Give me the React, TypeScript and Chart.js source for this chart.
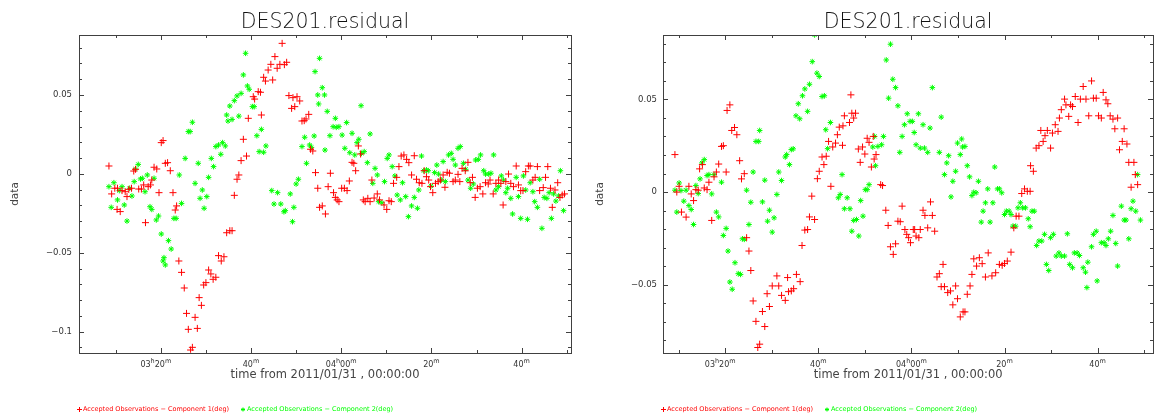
import React, { useEffect, useRef } from "react";
import { Chart, registerables } from "chart.js";

Chart.register(...registerables);

type Pt = [number, number];

const TITLE = "DES201.residual";
const X_TITLE = "time from 2011/01/31 , 00:00:00";
const Y_TITLE = "data";
const LEGEND_RED = "Accepted Observations \u2212 Component 1(deg)";
const LEGEND_GREEN = "Accepted Observations \u2212 Component 2(deg)";

// x values: minutes after 03:00 (UT) on 2011/01/31
const xMajorTicks = [20, 40, 60, 80, 100];
const xMajorLabels = ["03h20m", "40m", "04h00m", "20m", "40m"];

const leftYTicks = [0.05, 0, -0.05, -0.1];
const leftYLabels = ["0.05", "0", "\u22120.05", "\u22120.1"];
const rightYTicks = [0.05, 0, -0.05];
const rightYLabels = ["0.05", "0", "\u22120.05"];

const leftRed: Pt[] = [
  [8.5, 0.005], [9.1, -0.0127], [9.8, -0.0091], [10.4, -0.0091], [10.3, -0.0225], [11.0, -0.0239], [11.4, -0.0106], [12.1, -0.0113], [12.5, -0.0144], [12.9, -0.0098],
  [13.5, -0.0091], [14.0, 0.0018], [14.4, 0.0029], [15.1, -0.0096], [15.7, -0.0096], [16.2, -0.007], [16.6, -0.0309], [17.2, -0.0081], [17.7, -0.007], [18.0, -0.0039],
  [18.5, 0.0042], [19.1, 0.0031], [19.6, -0.0119], [20.1, 0.0198], [20.5, 0.0211], [21.0, 0.0067], [21.5, 0.0071], [22.1, 0.002], [22.7, -0.0119], [23.2, -0.0229],
  [23.5, -0.0203], [24.0, -0.0552], [24.6, -0.0624], [25.2, -0.0723], [25.7, -0.0884], [26.1, -0.0985], [26.6, -0.1116], [27.0, -0.1099], [27.6, -0.0909], [28.1, -0.0979],
  [28.5, -0.0784], [29.0, -0.0833], [29.5, -0.0704], [30.0, -0.0689], [30.6, -0.0609], [31.1, -0.0634], [31.6, -0.0668], [32.2, -0.0655], [32.8, -0.0518], [33.4, -0.0552],
  [34.0, -0.0525], [34.6, -0.0373], [35.3, -0.036], [35.8, -0.036], [36.3, -0.0136], [36.9, -0.0034], [37.3, -0.0007], [37.8, 0.0084], [38.3, 0.0219], [39.0, 0.0113],
  [39.4, 0.0352], [40.5, 0.0489], [40.8, 0.0474], [41.6, 0.0521], [42.1, 0.0517], [42.3, 0.0373], [42.8, 0.0612], [43.2, 0.0588], [43.8, 0.0658], [44.4, 0.0694],
  [44.8, 0.0595], [45.3, 0.0743], [45.8, 0.0669], [46.4, 0.0694], [46.9, 0.0827], [47.4, 0.0692], [47.9, 0.0707], [48.4, 0.0496], [49.0, 0.0415], [49.3, 0.0483],
  [49.7, 0.0426], [50.2, 0.0489], [50.8, 0.0462], [51.3, 0.0335], [51.8, 0.0337], [52.2, 0.0348], [52.8, 0.0377], [53.2, 0.0156], [53.7, 0.0145], [54.3, 0.0008],
  [54.8, -0.0091], [55.2, -0.0212], [55.8, -0.0203], [56.5, -0.0254], [57.1, -0.0081], [57.6, 0.0004], [58.3, -0.0119], [58.7, -0.0149], [59.1, -0.0165], [59.5, -0.0176],
  [60.1, -0.0091], [60.7, -0.0091], [61.3, -0.0106], [61.8, -0.0045], [62.4, 0.0073], [62.8, 0.0067], [63.2, 0.002], [63.8, 0.0177], [64.3, 0.0126], [64.9, -0.0165],
  [65.3, -0.0176], [65.9, -0.0155], [66.4, -0.0176], [66.8, -0.0039], [67.3, -0.0153], [68.0, -0.0127], [68.5, -0.0165], [69.5, -0.0197], [70.1, -0.0225], [70.6, -0.017],
  [71.1, -0.0176], [71.6, -0.006], [72.3, -0.0022], [72.8, 0.0046], [73.3, 0.0113], [73.9, 0.012], [74.5, 0.0092], [75.0, 0.0071], [75.6, -0.0007], [76.2, 0.0115],
  [76.7, -0.0034], [77.3, -0.0056], [77.9, -0.006], [78.4, 0.002], [78.9, -0.0018], [79.4, -0.0039], [79.8, -0.0081], [80.3, -0.0119], [80.9, -0.006], [81.5, -0.0049],
  [82.0, -0.0039], [82.6, -0.0007], [83.0, -0.0085], [83.5, 0.001], [84.0, 0.0004], [84.8, -0.0049], [85.3, -0.0039], [85.9, -0.0003], [86.3, -0.0049], [86.8, 0.0035],
  [87.5, 0.002], [88.1, 0.0073], [88.6, -0.0056], [89.1, -0.0022], [89.7, -0.0149], [90.2, -0.0091], [90.8, -0.0081], [91.4, -0.0127], [92.0, -0.0056], [92.6, -0.0064],
  [93.0, -0.0039], [93.7, -0.0127], [94.3, -0.006], [94.9, -0.0039], [95.4, -0.006], [95.9, -0.0197], [96.5, -0.0049], [97.1, -0.0001], [97.6, -0.006], [98.2, -0.0081],
  [98.8, 0.005], [99.3, -0.007], [99.8, -0.0106], [100.3, -0.0106], [100.9, 0.0014], [101.5, 0.005], [101.9, 0.005], [102.5, -0.0039], [103.0, -0.0022], [103.5, 0.0046],
  [104.0, -0.0106], [104.8, -0.0087], [105.3, -0.0022], [105.8, 0.0046], [106.4, -0.0091], [106.8, -0.0212], [107.4, -0.0102], [108.0, -0.0056], [108.5, -0.0149], [109.0, -0.0134],
  [109.5, -0.0127],
];

const leftGreen: Pt[] = [
  [8.5, -0.0081], [9.0, -0.0212], [9.6, -0.0056], [10.4, -0.0165], [10.8, -0.0106], [11.4, -0.0081], [11.9, -0.0197], [12.5, -0.0299], [13.1, -0.0091], [13.6, -0.014],
  [14.1, -0.0049], [14.4, 0.0031], [15.0, 0.006], [15.5, -0.0032], [15.9, -0.0028], [16.5, -0.0113], [17.0, -0.0007], [17.6, -0.0208], [18.0, -0.0225], [18.5, -0.0028],
  [19.0, -0.0292], [19.5, -0.0267], [20.1, -0.0381], [20.5, -0.0552], [20.7, -0.0531], [21.0, -0.0577], [21.7, -0.0423], [22.3, -0.0476], [22.9, -0.0282], [23.4, -0.0282],
  [24.1, -0.0007], [24.6, -0.0187], [25.4, 0.0098], [26.1, 0.0268], [26.5, 0.0268], [27.0, 0.0327], [27.6, -0.006], [28.3, 0.0067], [28.7, -0.0155], [29.2, -0.0102],
  [29.6, -0.0218], [30.2, -0.0144], [30.6, -0.0022], [31.2, 0.0098], [31.7, 0.0046], [32.2, 0.0173], [32.8, 0.0183], [33.3, 0.0124], [33.7, 0.0198], [34.3, 0.0177],
  [34.6, 0.0373], [34.9, 0.0335], [35.3, 0.043], [35.8, 0.0345], [36.3, 0.0464], [36.9, 0.0494], [37.3, 0.0366], [37.8, 0.051], [38.3, 0.0627], [38.8, 0.0764],
  [39.2, 0.0557], [39.6, 0.0536], [40.3, 0.0426], [40.7, 0.0426], [41.3, 0.0242], [41.8, 0.0141], [42.3, 0.0282], [42.8, 0.0137], [43.3, 0.0177], [44.6, -0.0106],
  [45.1, -0.0191], [45.9, -0.0119], [46.6, -0.0191], [47.3, -0.024], [47.6, -0.0233], [48.7, -0.0127], [49.2, -0.0303], [49.5, -0.0212], [50.0, -0.0064], [50.5, -0.0034],
  [51.3, 0.0173], [51.9, 0.0232], [52.3, 0.0067], [53.0, 0.0183], [53.4, 0.0168], [54.0, 0.024], [54.2, 0.0648], [54.8, 0.05], [55.0, 0.0443], [55.2, 0.0732],
  [55.8, 0.0546], [56.3, 0.05], [56.4, 0.0151], [56.9, 0.0396], [57.5, 0.0242], [58.2, 0.0299], [58.7, 0.0352], [58.9, 0.0295], [59.5, 0.0299], [60.2, 0.0246],
  [60.8, 0.0162], [61.2, 0.0325], [61.9, 0.0134], [62.4, 0.0257], [63.0, 0.012], [63.5, 0.0198], [63.9, 0.0219], [64.4, 0.0432], [64.5, 0.013], [65.1, 0.0141],
  [65.8, 0.0071], [66.4, 0.0253], [67.0, -0.006], [67.5, 0.0035], [68.0, -0.0007], [68.3, -0.0176], [69.0, -0.0183], [69.6, -0.0049], [70.2, 0.0098], [70.6, 0.012],
  [71.3, 0.0046], [71.9, -0.0013], [72.4, -0.0134], [73.1, -0.0165], [73.6, -0.0056], [74.3, -0.0144], [74.9, -0.0271], [75.6, -0.0203], [76.2, -0.0149], [76.9, -0.0218],
  [77.2, -0.0102], [77.8, 0.0113], [78.3, 0.002], [78.9, 0.0025], [79.3, 0.002], [79.9, -0.0077], [80.7, 0.0008], [81.2, 0.0056], [81.6, -0.0001], [82.2, -0.0039],
  [82.6, 0.0078], [83.1, -0.0049], [83.8, 0.012], [84.4, 0.013], [84.8, 0.0092], [85.3, 0.0056], [85.9, 0.0162], [86.4, 0.0173], [87.1, 0.0067], [87.6, 0.0029],
  [88.1, -0.0039], [88.7, -0.0091], [89.3, -0.0064], [89.8, 0.0088], [90.4, 0.0092], [90.9, 0.012], [91.6, 0.002], [92.0, -0.0001], [92.7, -0.0001], [93.2, 0.0004],
  [93.8, 0.012], [94.3, -0.0102], [94.9, -0.0081], [95.5, -0.0013], [96.0, -0.0039], [96.5, -0.0119], [96.9, -0.0091], [97.6, -0.0155], [98.0, -0.0254], [98.8, -0.0022],
  [99.3, -0.0144], [99.8, -0.0282], [100.4, -0.0013], [100.9, -0.0102], [101.3, -0.0288], [101.9, -0.0056], [102.5, -0.0113], [102.9, -0.0176], [103.5, -0.0212], [104.0, -0.0034],
  [104.5, -0.0345], [105.0, -0.0149], [105.6, -0.0155], [106.1, -0.0119], [106.6, -0.0282], [107.1, -0.0127], [107.6, -0.0172], [108.2, -0.014], [108.6, 0.002], [109.3, -0.0233],
];

const rightRed: Pt[] = [
  [9.2, 0.0202], [9.6, 0.0], [10.1, 0.0031], [10.6, -0.0108], [11.6, -0.0135], [12.2, 0.0031], [12.7, -0.001], [13.2, -0.0046], [13.7, 0.0013], [14.2, 0.001],
  [14.5, 0.0125], [15.1, 0.0148], [15.5, 0.0022], [16.1, 0.0013], [16.5, 0.0053], [17.1, -0.0153], [17.6, 0.0082], [18.1, 0.0108], [18.6, 0.0151], [19.2, 0.0246],
  [19.6, 0.025], [20.2, 0.0108], [20.4, 0.044], [21.0, 0.047], [21.4, 0.0332], [22.0, 0.0348], [22.5, 0.0309], [23.1, 0.0169], [23.5, 0.0071], [24.1, 0.0099],
  [24.6, -0.0246], [25.1, -0.0318], [25.5, -0.0423], [26.0, -0.0587], [26.6, -0.0697], [27.0, -0.0838], [27.4, -0.082], [28.0, -0.0644], [28.5, -0.0725], [29.0, -0.0548],
  [29.5, -0.0617], [30.1, -0.0506], [31.1, -0.0452], [31.5, -0.0506], [32.1, -0.0557], [32.9, -0.0584], [33.4, -0.0461], [33.6, -0.0537], [34.2, -0.0533], [34.7, -0.0521],
  [35.3, -0.0444], [36.1, -0.0483], [36.5, -0.0288], [37.1, -0.0205], [37.7, -0.0202], [38.1, -0.0134], [38.6, -0.0022], [39.2, -0.0148], [39.8, 0.0072], [40.2, 0.0112],
  [40.8, 0.0189], [41.2, 0.0148], [41.7, 0.0193], [42.2, 0.0273], [42.7, 0.0031], [43.1, 0.0243], [43.7, 0.0264], [44.1, 0.0309], [44.5, 0.035], [45.2, 0.0252],
  [45.3, 0.0357], [45.6, 0.0411], [46.7, 0.0375], [47.0, 0.0524], [47.2, 0.0425], [47.6, 0.0399], [48.0, 0.0425], [48.6, 0.0232], [49.0, 0.016], [49.5, 0.0243],
  [50.0, 0.0205], [50.5, 0.029], [50.9, 0.0268], [51.4, 0.0135], [51.8, 0.03], [52.0, 0.0178], [52.4, 0.0202], [53.4, 0.004], [53.8, 0.0035], [54.5, -0.0098],
  [55.0, -0.018], [55.5, -0.0295], [56.1, -0.0336], [56.6, -0.0279], [57.1, -0.0157], [57.6, -0.016], [58.0, -0.0076], [58.6, -0.0202], [59.0, -0.0228], [59.4, -0.0246],
  [59.8, -0.0273], [60.4, -0.0202], [60.7, -0.0202], [61.0, -0.0237], [61.6, -0.0246], [61.9, -0.0202], [62.5, -0.0098], [62.9, -0.0126], [63.5, -0.0193], [64.1, -0.0053],
  [64.5, -0.0126], [65.0, -0.0211], [65.5, -0.0458], [66.0, -0.044], [66.4, -0.051], [66.8, -0.039], [67.1, -0.051], [67.8, -0.0542], [68.4, -0.0533], [68.9, -0.0608],
  [69.5, -0.0506], [69.9, -0.0575], [70.5, -0.0673], [71.1, -0.0646], [71.5, -0.0646], [72.0, -0.0551], [72.6, -0.0506], [73.0, -0.0444], [73.4, -0.036], [74.0, -0.0399],
  [74.6, -0.0354], [75.2, -0.0386], [75.9, -0.0458], [76.5, -0.0328], [77.3, -0.0452], [78.1, -0.0435], [78.9, -0.039], [79.5, -0.0395], [80.0, -0.0385], [80.6, -0.0372],
  [81.4, -0.0324], [82.0, -0.0193], [82.5, -0.013], [83.1, -0.013], [83.7, -0.0008], [84.3, 0.0017], [84.9, 0.0004], [85.5, 0.0004], [85.6, 0.0142], [86.2, 0.0112],
  [86.8, 0.0237], [87.4, 0.025], [87.8, 0.0332], [88.3, 0.0273], [88.7, 0.0304], [89.2, 0.0332], [89.9, 0.0237], [90.3, 0.0318], [90.9, 0.0363], [91.5, 0.0327],
  [91.8, 0.0399], [92.2, 0.0444], [92.9, 0.0501], [93.2, 0.047], [93.8, 0.0408], [94.2, 0.047], [94.6, 0.0461], [95.2, 0.0515], [95.8, 0.0375], [96.3, 0.0501],
  [96.9, 0.0569], [97.5, 0.0501], [98.1, 0.0411], [98.7, 0.0599], [99.1, 0.0506], [99.7, 0.0506], [100.2, 0.0411], [100.8, 0.0399], [101.2, 0.0537], [101.8, 0.0497],
  [102.2, 0.0476], [102.7, 0.0411], [103.3, 0.0393], [103.7, 0.0341], [104.3, 0.0399], [104.7, 0.0228], [105.3, 0.0273], [105.7, 0.0341], [106.3, 0.0259], [106.7, 0.016],
  [107.2, 0.0026], [107.8, 0.016], [108.1, 0.0094], [108.6, 0.004],
];

const rightGreen: Pt[] = [
  [9.2, 0.001], [9.6, -0.0108], [10.1, 0.0049], [10.5, 0.0008], [11.1, -0.0049], [11.6, 0.001], [12.2, -0.0073], [12.7, -0.0094], [13.2, -0.0175], [13.7, 0.0035],
  [14.2, -0.0008], [14.6, 0.0071], [15.0, 0.0157], [15.5, 0.0175], [16.1, 0.0089], [16.5, 0.0094], [17.1, -0.001], [17.6, 0.0094], [18.1, -0.0108], [18.6, -0.0134],
  [19.2, 0.0053], [19.6, -0.0234], [20.2, -0.0196], [20.6, -0.0318], [21.0, -0.0485], [21.5, -0.0524], [22.1, -0.0381], [22.8, -0.044], [23.3, -0.0444], [23.7, -0.0252],
  [24.1, -0.0255], [24.6, 0.001], [25.1, -0.0175], [25.5, -0.0055], [26.0, 0.0108], [26.6, 0.0273], [27.2, 0.0273], [27.4, 0.0332], [28.0, -0.0053], [28.5, 0.0064],
  [29.1, -0.0157], [29.5, -0.0098], [30.1, -0.0216], [30.5, -0.0139], [31.1, -0.0013], [31.5, 0.0108], [32.1, 0.0062], [32.9, 0.0189], [33.2, 0.0202], [33.8, 0.0148],
  [34.2, 0.0229], [34.6, 0.0233], [35.2, 0.0411], [35.7, 0.0476], [36.0, 0.0395], [36.6, 0.0519], [37.1, 0.0556], [37.7, 0.0435], [38.1, 0.0581], [38.7, 0.0703],
  [39.2, 0.0847], [39.7, 0.0641], [40.2, 0.0623], [40.8, 0.0515], [41.3, 0.0519], [41.6, 0.0336], [42.0, 0.0234], [42.6, 0.0375], [44.3, -0.0031], [44.7, -0.0013],
  [45.1, 0.0094], [45.6, -0.009], [46.2, -0.0031], [46.8, -0.009], [47.2, -0.0211], [47.6, -0.0153], [48.2, -0.0148], [48.7, -0.0237], [49.1, -0.0046], [49.6, -0.013],
  [50.1, 0.0013], [50.5, 0.0013], [50.9, 0.004], [51.7, 0.0243], [52.1, 0.03], [52.3, 0.0142], [52.8, 0.0246], [53.6, 0.0255], [54.0, 0.03], [54.6, 0.0712],
  [55.1, 0.0506], [55.5, 0.0797], [56.0, 0.0608], [56.6, 0.0563], [57.1, 0.0465], [57.5, 0.0214], [58.0, 0.03], [58.5, 0.0363], [59.1, 0.0422], [59.7, 0.0381],
  [60.2, 0.0381], [60.6, 0.0321], [61.0, 0.0255], [61.5, 0.0422], [61.9, 0.0237], [62.5, 0.0363], [62.8, 0.0237], [63.5, 0.0214], [64.0, 0.0345], [64.5, 0.0563],
  [66.0, 0.0214], [66.4, 0.0404], [67.1, 0.0094], [67.6, 0.0157], [68.0, 0.0196], [68.5, -0.0026], [68.9, 0.0058], [69.5, 0.0112], [69.9, 0.0264], [70.5, 0.0202],
  [70.8, 0.0286], [71.0, 0.0243], [71.5, 0.0246], [72.0, 0.0142], [72.5, 0.0082], [73.0, -0.0019], [73.4, -0.0001], [73.9, -0.0004], [74.4, 0.0058], [75.0, -0.0162],
  [75.4, -0.0103], [75.9, -0.0058], [76.4, 0.0017], [76.9, -0.0162], [77.5, -0.0058], [77.9, 0.0135], [78.5, 0.0017], [78.9, 0.0017], [79.4, -0.0004], [80.0, -0.0121],
  [80.4, -0.0103], [81.0, -0.0103], [81.4, -0.0121], [81.8, -0.0184], [82.4, -0.0184], [82.9, -0.0085], [83.4, -0.0058], [83.9, -0.0085], [84.5, -0.0085], [85.1, -0.0144],
  [85.5, -0.0187], [85.9, -0.0103], [86.4, -0.0103], [86.9, -0.0288], [87.4, -0.0264], [88.0, -0.0264], [88.6, -0.0228], [89.0, -0.039], [89.5, -0.0423], [89.9, -0.0246],
  [90.5, -0.0228], [91.1, -0.0345], [91.7, -0.0328], [92.2, -0.0345], [92.9, -0.0345], [93.5, -0.0225], [94.0, -0.039], [94.6, -0.0408], [95.0, -0.0328], [95.6, -0.0328],
  [96.1, -0.0342], [96.9, -0.0408], [97.4, -0.0432], [97.7, -0.0515], [97.9, -0.0378], [98.7, -0.0295], [99.1, -0.0228], [99.7, -0.0211], [99.9, -0.0479], [100.8, -0.0273],
  [101.4, -0.0273], [101.8, -0.0288], [102.3, -0.0252], [102.8, -0.0211], [103.3, -0.0126], [103.9, -0.0277], [104.3, -0.0399], [105.1, -0.0076], [105.7, -0.0151], [106.1, -0.0151],
  [106.7, -0.0252], [107.2, -0.009], [107.6, -0.0049], [108.2, -0.0103], [108.6, 0.0094], [109.2, -0.0151],
];

type PanelCfg = {
  left: number;
  width: number;
  padding: { left: number; right: number; top: number; bottom: number };
  xMin: number;
  xMax: number;
  yMin: number;
  yMax: number;
  yTicks: number[];
  yLabels: string[];
  yLabelGap: number;
  yTitleX: number;
  red: Pt[];
  green: Pt[];
};

const panels: PanelCfg[] = [
  {
    left: 0,
    width: 577,
    padding: { left: 79, right: 6, top: 35.3, bottom: 66.3 },
    xMin: 1.86,
    xMax: 110.95,
    yMin: -0.1133,
    yMax: 0.0878,
    yTicks: leftYTicks,
    yLabels: leftYLabels,
    yLabelGap: 7,
    yTitleX: 15,
    red: leftRed,
    green: leftGreen,
  },
  {
    left: 577,
    width: 581,
    padding: { left: 86.3, right: 2.5, top: 35.3, bottom: 66.3 },
    xMin: 6.7,
    xMax: 111.9,
    yMin: -0.0866,
    yMax: 0.0845,
    yTicks: rightYTicks,
    yLabels: rightYLabels,
    yLabelGap: 6,
    yTitleX: 23,
    red: rightRed,
    green: rightGreen,
  },
];

const FONT = "'DejaVu Sans', 'Liberation Sans', sans-serif";
const AXIS_COLOR = "#404040";
const TEXT_COLOR = "#333333";
const RED = "#ff0000";
const GREEN = "#00ff00";

function drawTickLabel(ctx: CanvasRenderingContext2D, label: string, cx: number, baseY: number) {
  const mainFont = `8px ${FONT}`;
  const supFont = `6.5px ${FONT}`;
  const parts: { text: string; sup: boolean }[] = [];
  for (const ch of label) {
    const sup = ch === "h" || ch === "m";
    const last = parts[parts.length - 1];
    if (last && last.sup === sup) last.text += ch;
    else parts.push({ text: ch, sup });
  }
  let total = 0;
  const widths = parts.map((p) => {
    ctx.font = p.sup ? supFont : mainFont;
    const w = ctx.measureText(p.text).width;
    total += w;
    return w;
  });
  let x = cx - total / 2;
  ctx.textAlign = "left";
  ctx.textBaseline = "alphabetic";
  parts.forEach((p, i) => {
    ctx.font = p.sup ? supFont : mainFont;
    ctx.fillText(p.text, x, p.sup ? baseY - 4 : baseY);
    x += widths[i];
  });
}

function makeDecor(cfg: PanelCfg) {
  return {
    id: "decor",
    afterDraw(chart: any) {
      const ctx: CanvasRenderingContext2D = chart.ctx;
      const { left, right, top, bottom } = chart.chartArea;
      const xs = chart.scales.x;
      const ys = chart.scales.y;
      const L = Math.round(left);
      const R = Math.round(right);
      const T = Math.round(top);
      const B = Math.round(bottom);
      ctx.save();
      ctx.strokeStyle = AXIS_COLOR;
      ctx.lineWidth = 1;
      ctx.strokeRect(L + 0.5, T + 0.5, R - L, B - T);

      ctx.beginPath();
      for (let t = Math.ceil(cfg.xMin / 10) * 10; t <= cfg.xMax; t += 10) {
        const px = Math.round(xs.getPixelForValue(t)) + 0.5;
        const len = t % 20 === 0 ? 5 : 3;
        ctx.moveTo(px, B);
        ctx.lineTo(px, B - len);
        ctx.moveTo(px, T);
        ctx.lineTo(px, T + len);
      }
      const kMin = Math.ceil(cfg.yMin * 100 - 1e-6);
      const kMax = Math.floor(cfg.yMax * 100 + 1e-6);
      for (let k = kMin; k <= kMax; k++) {
        const py = Math.round(ys.getPixelForValue(k / 100)) + 0.5;
        const len = k % 5 === 0 ? 5 : 3;
        ctx.moveTo(L, py);
        ctx.lineTo(L + len, py);
        ctx.moveTo(R, py);
        ctx.lineTo(R - len, py);
      }
      ctx.stroke();

      ctx.fillStyle = TEXT_COLOR;
      // y tick labels
      ctx.font = `8.5px ${FONT}`;
      ctx.textAlign = "right";
      ctx.textBaseline = "middle";
      cfg.yTicks.forEach((v, i) => {
        ctx.fillText(cfg.yLabels[i], L - cfg.yLabelGap, ys.getPixelForValue(v));
      });
      // x tick labels
      xMajorTicks.forEach((t, i) => {
        const shift = i === 0 ? -5 : 0;
        drawTickLabel(ctx, xMajorLabels[i], xs.getPixelForValue(t) + shift, 366.5);
      });

      const cx = (left + right) / 2;
      // title
      ctx.fillStyle = "#111111";
      ctx.font = `200 20.5px ${FONT}`;
      ctx.textAlign = "center";
      ctx.textBaseline = "alphabetic";
      ctx.fillText(TITLE, cx, 28.3);
      // x title
      ctx.fillStyle = "#444444";
      ctx.font = `11.5px ${FONT}`;
      ctx.fillText(X_TITLE, cx, 378.3);
      // y title
      ctx.save();
      ctx.translate(cfg.yTitleX, (top + bottom) / 2);
      ctx.rotate(-Math.PI / 2);
      ctx.font = `10.5px ${FONT}`;
      ctx.textAlign = "center";
      ctx.textBaseline = "middle";
      ctx.fillText(Y_TITLE, 0, 0);
      ctx.restore();

      // legend
      const ly = 409;
      const lx = L - 2;
      ctx.font = `6.5px ${FONT}`;
      ctx.textAlign = "left";
      ctx.textBaseline = "middle";
      ctx.strokeStyle = RED;
      ctx.beginPath();
      ctx.moveTo(lx, ly + 0.5);
      ctx.lineTo(lx + 5, ly + 0.5);
      ctx.moveTo(lx + 2.5, ly - 2);
      ctx.lineTo(lx + 2.5, ly + 3);
      ctx.stroke();
      ctx.fillStyle = RED;
      ctx.fillText(LEGEND_RED, lx + 6, ly);
      const gx = lx + 164;
      ctx.strokeStyle = GREEN;
      ctx.beginPath();
      const r = 2;
      ctx.moveTo(gx + 2 - r, ly + 0.5);
      ctx.lineTo(gx + 2 + r, ly + 0.5);
      ctx.moveTo(gx + 2, ly + 0.5 - r);
      ctx.lineTo(gx + 2, ly + 0.5 + r);
      ctx.moveTo(gx + 2 - 1.4, ly + 0.5 - 1.4);
      ctx.lineTo(gx + 2 + 1.4, ly + 0.5 + 1.4);
      ctx.moveTo(gx + 2 - 1.4, ly + 0.5 + 1.4);
      ctx.lineTo(gx + 2 + 1.4, ly + 0.5 - 1.4);
      ctx.stroke();
      ctx.fillStyle = GREEN;
      ctx.fillText(LEGEND_GREEN, gx + 6, ly);
      ctx.restore();
    },
  };
}

function Panel({ cfg }: { cfg: PanelCfg }) {
  const ref = useRef<HTMLCanvasElement | null>(null);
  useEffect(() => {
    const canvas = ref.current;
    if (!canvas) return;
    const chart = new Chart(canvas, {
      type: "scatter",
      data: {
        datasets: [
          {
            label: LEGEND_RED,
            data: cfg.red.map(([x, y]) => ({ x, y })),
            pointStyle: "cross",
            pointRadius: 3.5,
            pointBorderWidth: 1,
            borderColor: RED,
            backgroundColor: RED,
            showLine: false,
          },
          {
            label: LEGEND_GREEN,
            data: cfg.green.map(([x, y]) => ({ x, y })),
            pointStyle: "star",
            pointRadius: 2.8,
            pointBorderWidth: 1,
            borderColor: GREEN,
            backgroundColor: GREEN,
            showLine: false,
          },
        ],
      },
      options: {
        animation: false,
        responsive: false,
        maintainAspectRatio: false,
        devicePixelRatio: 1,
        events: [],
        layout: { padding: cfg.padding },
        scales: {
          x: { type: "linear", min: cfg.xMin, max: cfg.xMax, display: false },
          y: { type: "linear", min: cfg.yMin, max: cfg.yMax, display: false },
        },
        plugins: {
          legend: { display: false },
          title: { display: false },
          tooltip: { enabled: false },
        },
      },
      plugins: [makeDecor(cfg)],
    } as any);
    return () => chart.destroy();
  }, [cfg]);
  return (
    <canvas
      ref={ref}
      width={cfg.width}
      height={419}
      style={{ position: "absolute", left: cfg.left, top: 0, width: cfg.width, height: 419 }}
    />
  );
}

export default function App() {
  return (
    <div
      style={{
        position: "fixed",
        left: 0,
        top: 0,
        width: 1154,
        height: 419,
        overflow: "hidden",
        background: "#ffffff",
      }}
    >
      {panels.map((p, i) => (
        <Panel key={i} cfg={p} />
      ))}
    </div>
  );
}
